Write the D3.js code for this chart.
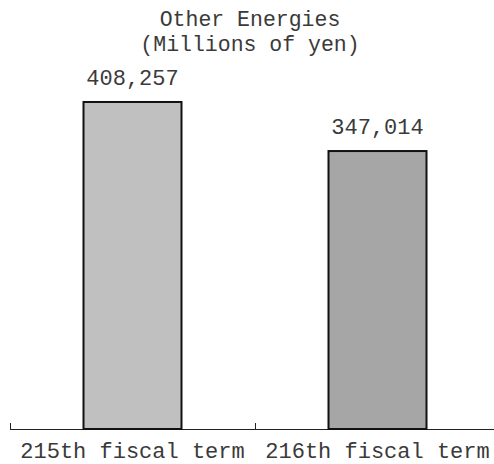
<!DOCTYPE html>
<html>
<head>
<meta charset="utf-8">
<script src="https://cdn.jsdelivr.net/npm/d3@7"></script>
<style>
html,body{margin:0;padding:0;background:#fff;}
svg{display:block;}
text{font-family:"Courier New","Liberation Mono",monospace;fill:#3a3a3a;}
</style>
</head>
<body>
<svg id="chart" width="494" height="464"></svg>
<script>
const categories = ["215th fiscal term", "216th fiscal term"];
const values = [408257, 347014];
const barColors = ["#c0c0c0", "#a6a6a6"];
const titleLines = ["Other Energies", "(Millions of yen)"];

const W = 494, H = 464;
const svg = d3.select("#chart");

const x = d3.scaleBand().domain(categories).range([10, 500]).padding(0);
const y = d3.scaleLinear().domain([0, 500000]).range([429, 28.5]);

// axis
const axisG = svg.append("g").attr("transform", `translate(0,${y(0)})`)
  .call(d3.axisBottom(x).tickSize(0).tickFormat(""));
axisG.select(".domain").remove();
axisG.append("line").attr("x1", 10).attr("x2", W).attr("y1", 0.5).attr("y2", 0.5)
  .attr("stroke", "#222").attr("stroke-width", 1);
// tick marks at band edges
const edges = categories.map(c => x(c));
axisG.selectAll(".edge").data(edges).enter().append("line")
  .attr("x1", d => Math.round(d) + 0.5).attr("x2", d => Math.round(d) + 0.5)
  .attr("y1", -6).attr("y2", 0.5).attr("stroke", "#222");

// bars
const bw = x.bandwidth();
svg.selectAll(".bar").data(values).enter().append("rect")
  .attr("x", (d, i) => x(categories[i]) + bw * 0.3)
  .attr("width", bw * 0.4)
  .attr("y", d => y(d))
  .attr("height", d => y(0) - y(d))
  .attr("fill", (d, i) => barColors[i])
  .attr("stroke", "#111").attr("stroke-width", 2);

// value labels
svg.selectAll(".val").data(values).enter().append("text")
  .attr("x", (d, i) => x(categories[i]) + bw / 2)
  .attr("y", d => y(d) - 17)
  .attr("text-anchor", "middle")
  .style("font-size", "22px")
  .text(d => d3.format(",")(d));

// category labels
svg.selectAll(".cat").data(categories).enter().append("text")
  .attr("x", d => x(d) + bw / 2)
  .attr("y", 458)
  .attr("text-anchor", "middle")
  .style("font-size", "22px")
  .text(d => d);

// title
svg.selectAll(".title").data(titleLines).enter().append("text")
  .attr("x", 250)
  .attr("y", (d, i) => 26 + i * 24.5)
  .attr("text-anchor", "middle")
  .style("font-size", "21.5px")
  .text(d => d);
</script>
</body>
</html>
